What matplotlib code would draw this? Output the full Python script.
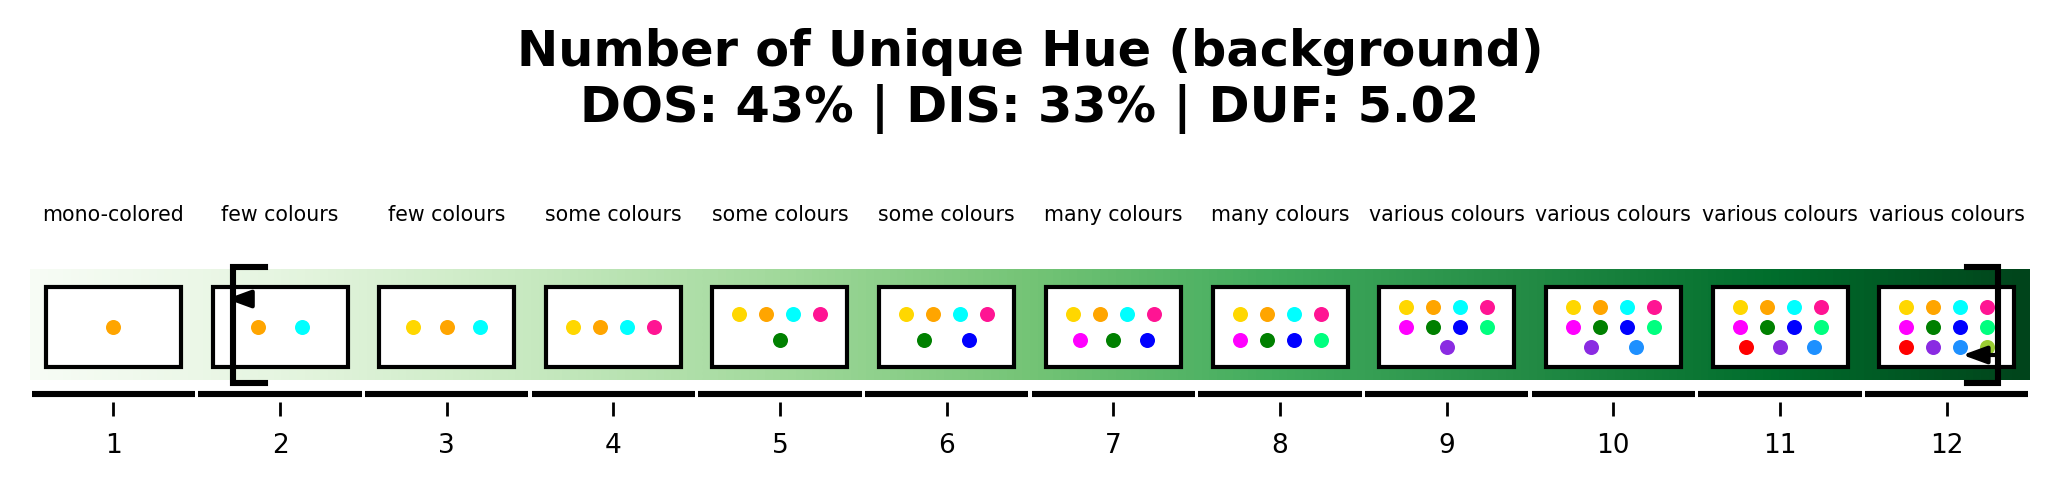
import numpy as np
import matplotlib
matplotlib.use("Agg")
import matplotlib.pyplot as plt
from matplotlib.patches import Rectangle

# ---- data ----
categories = [1, 2, 3, 4, 5, 6, 7, 8, 9, 10, 11, 12]
category_labels = ["mono-colored", "few colours", "few colours", "some colours",
                   "some colours", "some colours", "many colours", "many colours",
                   "various colours", "various colours", "various colours", "various colours"]
base8 = ["gold", "orange", "cyan", "deeppink", "magenta", "green", "blue", "springgreen"]
dot_colors = [
    ["orange"],
    ["orange", "cyan"],
    ["gold", "orange", "cyan"],
    ["gold", "orange", "cyan", "deeppink"],
    ["gold", "orange", "cyan", "deeppink", "green"],
    ["gold", "orange", "cyan", "deeppink", "green", "blue"],
    ["gold", "orange", "cyan", "deeppink", "magenta", "green", "blue"],
    base8,
    base8 + ["blueviolet"],
    base8 + ["blueviolet", "dodgerblue"],
    base8 + ["red", "blueviolet", "dodgerblue"],
    base8 + ["red", "blueviolet", "dodgerblue", "yellowgreen"],
]
title_text = "Number of Unique Hue (background)\nDOS: 43% | DIS: 33% | DUF: 5.02"
left_bracket_x = 1.72
right_bracket_x = 12.31

# ---- figure ----
W, H, DPI = 2060, 488, 200
fig = plt.figure(figsize=(W / DPI, H / DPI), dpi=DPI)
ax_left, ax_right = 30 / W, 2030 / W
ax_top_px, ax_bot_px = 269, 402
ax = fig.add_axes([ax_left, 1 - ax_bot_px / H, ax_right - ax_left, (ax_bot_px - ax_top_px) / H])
ax.set_xlim(0.5, 12.5)
ax.set_ylim(0, 1)

def py(px):
    return (ax_bot_px - px) / (ax_bot_px - ax_top_px)

band_bottom = py(380)
grad = np.linspace(0, 1, 512).reshape(1, -1)
ax.imshow(grad, cmap="Greens", aspect="auto", extent=[0.5, 12.5, band_bottom, 1.0],
          interpolation="bilinear", zorder=0)

box_w = 0.81
box_y0, box_y1 = py(367), py(287)
box_h = box_y1 - box_y0
for c, label, cols in zip(categories, category_labels, dot_colors):
    x0 = c - box_w / 2
    ax.add_patch(Rectangle((x0, box_y0), box_w, box_h, facecolor="white",
                           edgecolor="black", lw=1.5, zorder=2))
    rows = [cols[i:i + 4] for i in range(0, len(cols), 4)]
    nr = len(rows)
    for r, row in enumerate(rows):
        yy = box_y1 - (r + 1) * box_h / (nr + 1)
        n = len(row)
        for k, col in enumerate(row):
            xx = x0 + (k + 1) * box_w / (n + 1)
            ax.plot(xx, yy, "o", color=col, markersize=5.4, markeredgewidth=0, zorder=3)
    # segment line under each category
    ax.plot([c - 0.49, c + 0.49], [py(394)] * 2, color="black", lw=2.2,
            solid_capstyle="butt", clip_on=False, zorder=2)
    ax.text(c, py(215), label, ha="center", va="center", fontsize=7.4)

# brackets
yb_top, yb_bot = py(267), py(383)
arm = 0.19
ax.plot([left_bracket_x + arm, left_bracket_x, left_bracket_x, left_bracket_x + arm],
        [yb_top, yb_top, yb_bot, yb_bot], color="black", lw=2.2, clip_on=False, zorder=5,
        solid_joinstyle="miter")
ax.plot([right_bracket_x - arm, right_bracket_x, right_bracket_x, right_bracket_x - arm],
        [yb_top, yb_top, yb_bot, yb_bot], color="black", lw=2.2, clip_on=False, zorder=5,
        solid_joinstyle="miter")
astyle = dict(arrowstyle="-|>,head_length=0.6,head_width=0.22", color="black", lw=1.5,
              mutation_scale=12, shrinkA=0, shrinkB=0)
ax.annotate("", xy=(left_bracket_x - 0.04, py(299)), xytext=(left_bracket_x + 0.08, py(299)),
            arrowprops=astyle, zorder=6, annotation_clip=False)
ax.annotate("", xy=(right_bracket_x - 0.215, py(355)), xytext=(right_bracket_x, py(355)),
            arrowprops=astyle, zorder=6, annotation_clip=False)

ax.set_xticks(categories)
ax.set_xticklabels([str(c) for c in categories], fontsize=9.5)
ax.set_yticks([])
ax.tick_params(axis="x", length=5, width=1, pad=6)
for s in ax.spines.values():
    s.set_visible(False)

fig.text(0.5, 1 - 122 / H, title_text, ha="center", va="baseline", fontsize=17.8,
         fontweight="bold", linespacing=1.2)

fig.savefig("out.png", dpi=DPI)
